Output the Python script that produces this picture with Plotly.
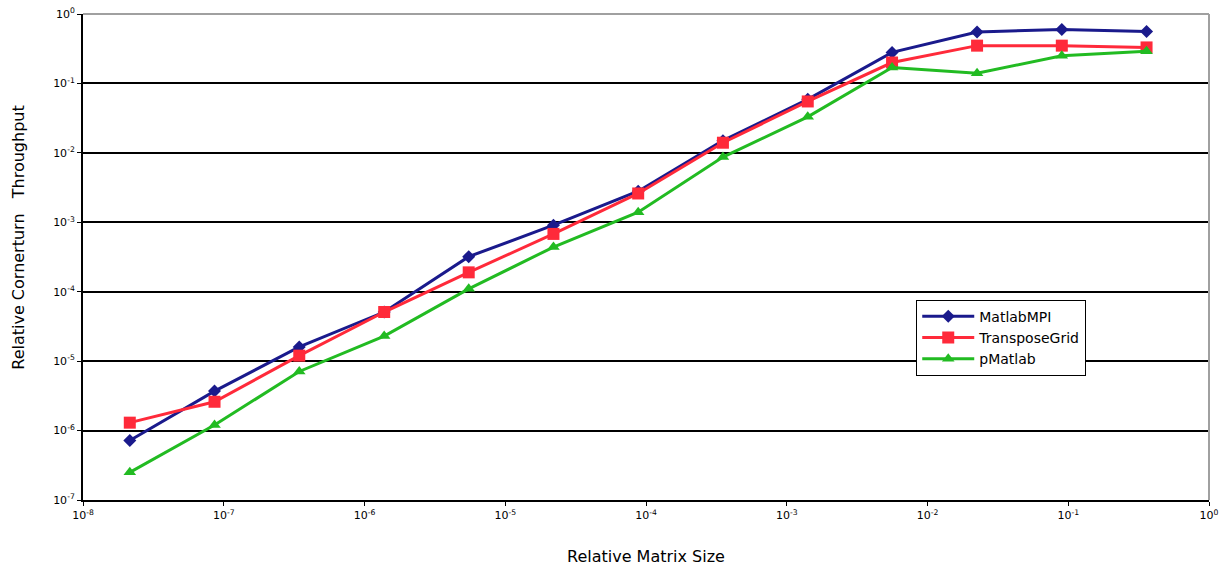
import plotly.graph_objects as go

# Relative matrix size (x) for the 13 measurements
matrix_size = [2.15e-8, 8.6e-8, 3.44e-7, 1.38e-6, 5.5e-6, 2.2e-5, 8.8e-5,
               3.52e-4, 1.41e-3, 5.6e-3, 2.25e-2, 9.0e-2, 0.36]

# Relative cornerturn throughput
matlabmpi = [7.2e-7, 3.7e-6, 1.6e-5, 5.1e-5, 3.2e-4, 9.1e-4, 2.8e-3,
             1.5e-2, 5.9e-2, 0.28, 0.55, 0.60, 0.56]
transposegrid = [1.3e-6, 2.6e-6, 1.2e-5, 5.1e-5, 1.9e-4, 6.8e-4, 2.6e-3,
                 1.4e-2, 5.5e-2, 0.20, 0.35, 0.35, 0.33]
pmatlab = [2.5e-7, 1.2e-6, 7.1e-6, 2.3e-5, 1.1e-4, 4.4e-4, 1.4e-3,
           8.7e-3, 3.3e-2, 0.17, 0.14, 0.25, 0.29]

series_names = ["MatlabMPI", "TransposeGrid", "pMatlab"]

x_tickvals = [1e-8, 1e-7, 1e-6, 1e-5, 1e-4, 1e-3, 1e-2, 1e-1, 1]
x_ticktext = ["10<sup>-8</sup>", "10<sup>-7</sup>", "10<sup>-6</sup>", "10<sup>-5</sup>",
              "10<sup>-4</sup>", "10<sup>-3</sup>", "10<sup>-2</sup>", "10<sup>-1</sup>",
              "10<sup>0</sup>"]
y_tickvals = [1e-7, 1e-6, 1e-5, 1e-4, 1e-3, 1e-2, 1e-1, 1]
y_ticktext = ["10<sup>-7</sup>", "10<sup>-6</sup>", "10<sup>-5</sup>", "10<sup>-4</sup>",
              "10<sup>-3</sup>", "10<sup>-2</sup>", "10<sup>-1</sup>", "10<sup>0</sup>"]

x_title = "Relative Matrix Size"
y_title = "Relative Cornerturn\u00a0\u00a0\u00a0Throughput"

FONT = "DejaVu Sans, Verdana, sans-serif"

fig = go.Figure()
styles = [
    dict(color="#1a1a8c", symbol="diamond", size=10),
    dict(color="#ff2a3a", symbol="square", size=12),
    dict(color="#22bb22", symbol="triangle-up", size=11),
]
for name, ys, st in zip(series_names, [matlabmpi, transposegrid, pmatlab], styles):
    fig.add_trace(go.Scatter(
        x=matrix_size, y=ys, name=name, mode="lines+markers",
        line=dict(color=st["color"], width=3),
        marker=dict(color=st["color"], symbol=st["symbol"], size=st["size"],
                    line=dict(width=0)),
    ))

fig.update_layout(
    width=1220, height=569,
    margin=dict(l=83, r=11, t=14, b=69, autoexpand=False),
    paper_bgcolor="white", plot_bgcolor="white",
    font=dict(family=FONT, color="black", size=11),
    showlegend=True,
    legend=dict(x=0.74, y=0.412, xanchor="left", yanchor="top",
                bgcolor="white", bordercolor="black", borderwidth=1,
                font=dict(size=14, family=FONT), tracegroupgap=0,
                itemwidth=52),
    xaxis=dict(type="log", range=[-8, 0], tickvals=x_tickvals, ticktext=x_ticktext,
               automargin=False, ticklabeloverflow="allow",
               showgrid=False, zeroline=False, showline=True, linecolor="black",
               linewidth=2, ticks="outside", ticklen=4, tickcolor="black",
               tickfont=dict(size=11, family=FONT)),
    yaxis=dict(type="log", range=[-7, 0], tickvals=y_tickvals, ticktext=y_ticktext,
               automargin=False, ticklabeloverflow="allow",
               showgrid=True, gridcolor="black", gridwidth=1.5, zeroline=False,
               showline=True, linecolor="black", linewidth=2, ticks="outside",
               ticklen=4, tickcolor="black",
               tickfont=dict(size=11, family=FONT)),
    annotations=[
        dict(text=x_title, xref="paper", yref="paper", x=0.5, y=-0.117,
             xanchor="center", yanchor="middle", showarrow=False,
             font=dict(size=16, family=FONT)),
        dict(text=y_title, xref="paper", yref="paper", x=-0.058, y=0.539,
             xanchor="center", yanchor="middle", showarrow=False, textangle=-90,
             font=dict(size=16, family=FONT)),
    ],
)

# light grey frame on top and right edges
fig.add_shape(type="line", xref="paper", yref="paper", x0=0, x1=1, y0=1, y1=1,
              line=dict(color="#a0a0a0", width=2), layer="above")
fig.add_shape(type="line", xref="paper", yref="paper", x0=1, x1=1, y0=0, y1=1,
              line=dict(color="#a0a0a0", width=2), layer="above")

# remove the default page margin so the figure fills the window exactly
fig.write_html("out.html", config={"displayModeBar": False},
               post_script="document.body.style.margin='0';")
